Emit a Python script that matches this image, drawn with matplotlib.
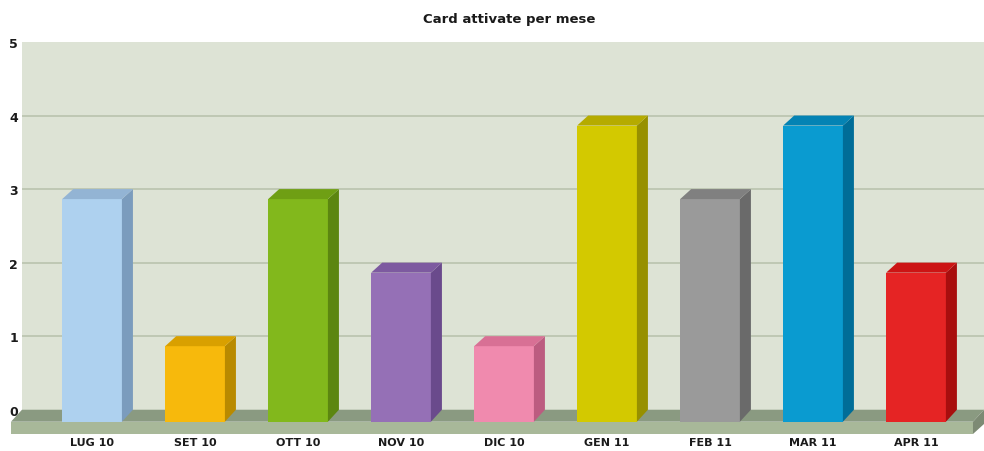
import matplotlib
matplotlib.use("Agg")
import matplotlib.pyplot as plt
from matplotlib.patches import Polygon

mesi = ["LUG 10", "SET 10", "OTT 10", "NOV 10", "DIC 10",
        "GEN 11", "FEB 11", "MAR 11", "APR 11"]
card = [3, 1, 3, 2, 1, 4, 3, 4, 2]
front_col = ["#aed1ef", "#f7b90c", "#82b81c", "#9570b6", "#f08aae",
             "#d3c900", "#9a9a9a", "#0a9bd0", "#e52424"]
top_col = ["#93b4d4", "#d9a000", "#6f9f14", "#7d5aa0", "#d87095",
           "#b5ab00", "#808080", "#0483b4", "#cc1414"]
side_col = ["#7b9cbd", "#b98a00", "#5c8610", "#6a4a8c", "#bc5c80",
            "#979000", "#6a6a6a", "#006d98", "#a80e0e"]
yticks = [0, 1, 2, 3, 4, 5]

W, H = 984, 452
fig = plt.figure(figsize=(W / 100, H / 100), dpi=100)
fig.patch.set_facecolor("white")
ax = fig.add_axes([22 / W, 17 / H, 962 / W, 392 / H])

xmin, xmax = -0.68, 8.66
ymin, ymax = -0.33, 5.0
ax.set_xlim(xmin, xmax)
ax.set_ylim(ymin, ymax)

dx = 0.107   # profondità 3D
dy = 0.136
bw = 0.29
floor_front = -0.163
floor_bottom = -0.33

ax.set_facecolor("white")
# parete di fondo
ax.add_patch(Polygon([(xmin, 0), (xmax, 0), (xmax, ymax), (xmin, ymax)],
                     closed=True, facecolor="#dde3d5", edgecolor="none", zorder=0))
for v in yticks[1:-1]:
    ax.plot([xmin, xmax], [v, v], color="#b6c1ab", lw=1.1, zorder=1)

# pavimento
ax.add_patch(Polygon([(xmin, 0), (xmax, 0), (xmax - dx, floor_front), (xmin - dx, floor_front)],
                     closed=True, facecolor="#8a9a81", edgecolor="none", zorder=1, clip_on=False))
ax.add_patch(Polygon([(xmin - dx, floor_front), (xmax - dx, floor_front),
                      (xmax - dx, floor_bottom), (xmin - dx, floor_bottom)],
                     closed=True, facecolor="#a8b899", edgecolor="none", zorder=1, clip_on=False))
ax.add_patch(Polygon([(xmax - dx, floor_front), (xmax, 0), (xmax, floor_bottom + dy),
                      (xmax - dx, floor_bottom)],
                     closed=True, facecolor="#7d8a74", edgecolor="none", zorder=1, clip_on=False))

for i, v in enumerate(card):
    x0, x1 = i - bw, i + bw
    ftop = v - dy
    # faccia frontale
    ax.add_patch(Polygon([(x0, floor_front), (x1, floor_front), (x1, ftop), (x0, ftop)],
                         closed=True, facecolor=front_col[i], edgecolor="none", zorder=3))
    # lato
    ax.add_patch(Polygon([(x1, floor_front), (x1 + dx, 0), (x1 + dx, v), (x1, ftop)],
                         closed=True, facecolor=side_col[i], edgecolor="none", zorder=3))
    # cima
    ax.add_patch(Polygon([(x0, ftop), (x1, ftop), (x1 + dx, v), (x0 + dx, v)],
                         closed=True, facecolor=top_col[i], edgecolor="none", zorder=3))

ax.set_xticks(range(len(mesi)))
ax.set_xticklabels(mesi, fontsize=8, fontweight="bold", color="#1a1a1a")
ax.set_yticks(yticks)
ax.set_yticklabels([str(t) for t in yticks], fontsize=9, fontweight="bold", color="#1a1a1a")
ax.tick_params(axis="both", length=0)
ax.tick_params(axis="x", pad=2)
ax.tick_params(axis="y", pad=3)
for s in ax.spines.values():
    s.set_visible(False)

fig.text(509 / W, 1 - 20 / H, "Card attivate per mese", ha="center", va="center",
         fontsize=9.5, fontweight="bold", color="#1a1a1a")

fig.savefig("out.png", dpi=100, facecolor="white")
